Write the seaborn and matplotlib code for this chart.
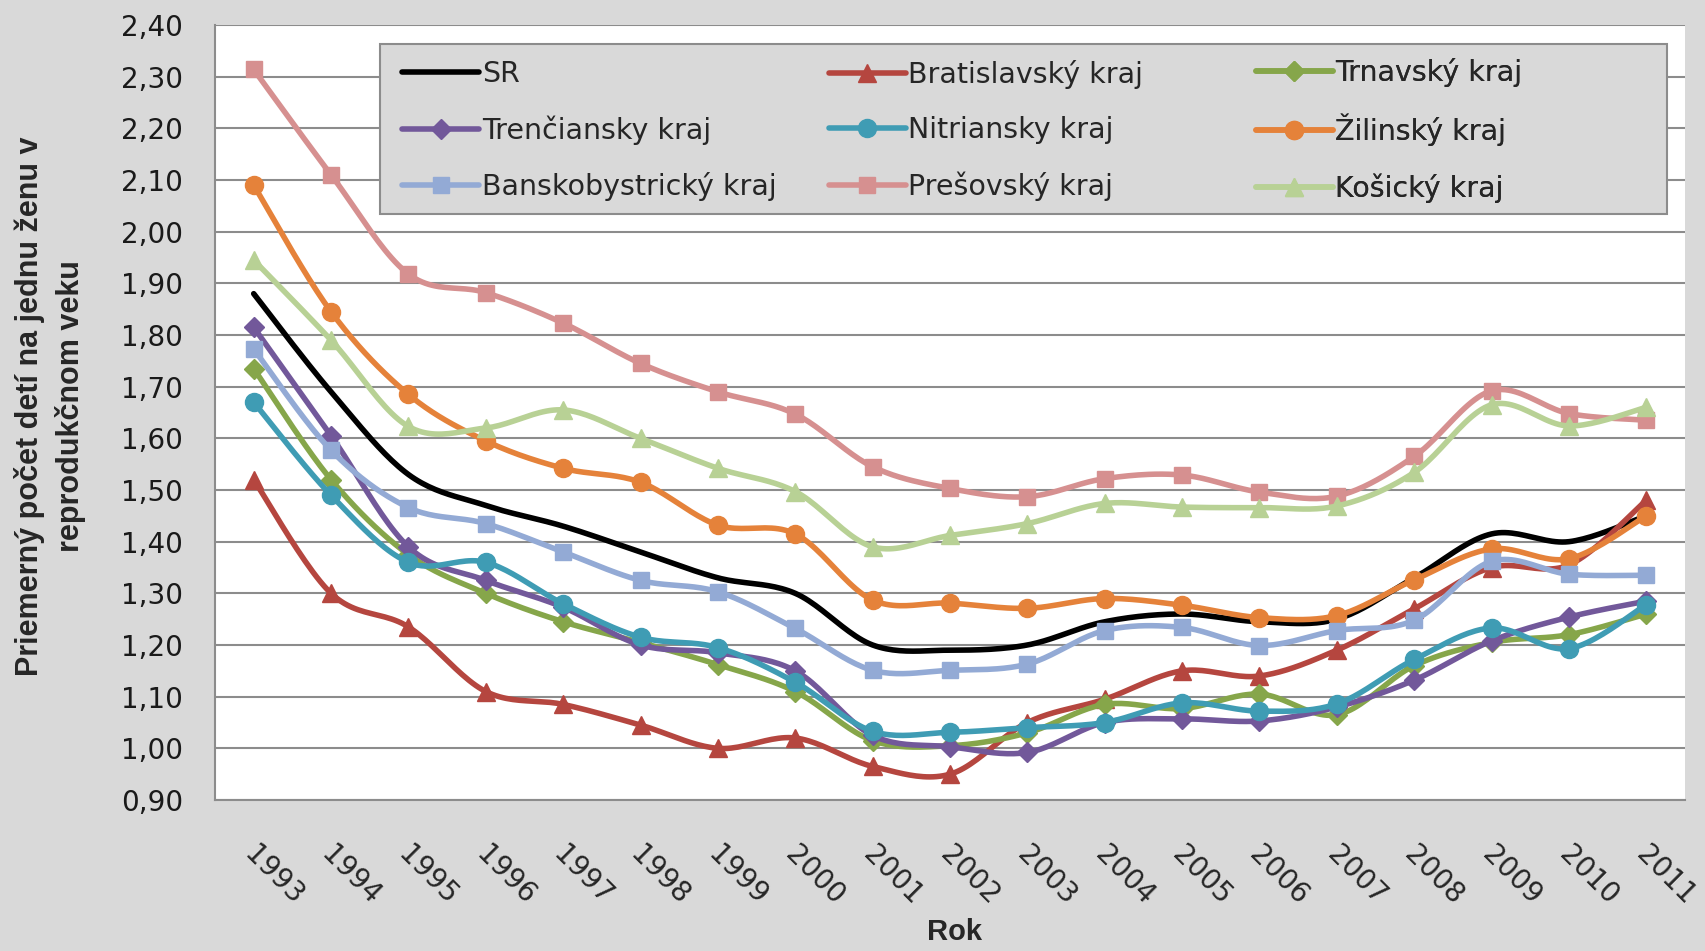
import numpy as np
import pandas as pd
import seaborn as sns
import matplotlib.pyplot as plt
from matplotlib import font_manager as fm
from matplotlib.lines import Line2D
from matplotlib.patches import Rectangle
from matplotlib.ticker import FuncFormatter, MultipleLocator

# hodnoty odčítané z grafu
years = list(range(1993, 2012))
sr = [1.88, 1.69, 1.53, 1.47, 1.43, 1.38, 1.33, 1.30, 1.20, 1.19, 1.20, 1.245, 1.26, 1.245, 1.25, 1.33, 1.415, 1.40, 1.45]
bratislavsky = [1.52, 1.30, 1.235, 1.11, 1.085, 1.045, 1.00, 1.02, 0.965, 0.95, 1.05, 1.095, 1.15, 1.14, 1.19, 1.27, 1.35, 1.355, 1.48]
trnavsky = [1.735, 1.52, 1.375, 1.30, 1.245, 1.205, 1.162, 1.11, 1.015, 1.005, 1.03, 1.085, 1.077, 1.105, 1.065, 1.16, 1.205, 1.22, 1.26]
trenciansky = [1.815, 1.605, 1.39, 1.325, 1.273, 1.20, 1.185, 1.15, 1.025, 1.003, 0.992, 1.05, 1.057, 1.053, 1.08, 1.132, 1.208, 1.254, 1.285]
nitriansky = [1.67, 1.49, 1.36, 1.36, 1.28, 1.215, 1.195, 1.128, 1.033, 1.031, 1.04, 1.05, 1.088, 1.072, 1.086, 1.172, 1.233, 1.193, 1.278]
zilinsky = [2.09, 1.845, 1.685, 1.595, 1.542, 1.515, 1.432, 1.415, 1.287, 1.281, 1.271, 1.29, 1.277, 1.253, 1.257, 1.326, 1.386, 1.367, 1.45]
banskobystricky = [1.773, 1.577, 1.466, 1.435, 1.38, 1.325, 1.303, 1.232, 1.151, 1.151, 1.163, 1.228, 1.234, 1.199, 1.228, 1.248, 1.362, 1.337, 1.335]
presovsky = [2.314, 2.11, 1.918, 1.882, 1.823, 1.745, 1.69, 1.647, 1.545, 1.503, 1.487, 1.522, 1.529, 1.496, 1.488, 1.565, 1.692, 1.648, 1.635]
kosicky = [1.945, 1.79, 1.623, 1.62, 1.655, 1.60, 1.542, 1.497, 1.39, 1.412, 1.435, 1.474, 1.467, 1.466, 1.469, 1.534, 1.665, 1.624, 1.66]

names = ["SR", "Bratislavský kraj", "Trnavský kraj", "Trenčiansky kraj", "Nitriansky kraj",
         "Žilinský kraj", "Banskobystrický kraj", "Prešovský kraj", "Košický kraj"]
values = [sr, bratislavsky, trnavsky, trenciansky, nitriansky, zilinsky, banskobystricky, presovsky, kosicky]
colors = ["#000000", "#B5463F", "#86A64A", "#72589A", "#3F9CB4", "#E5823A", "#93AAD5", "#D69090", "#B8D195"]
markers = [None, "^", "D", "D", "o", "o", "s", "s", "^"]
msizes = [0, 13, 10, 10, 13, 13, 12, 12, 13]


def smooth_curve(x, y, steps=24):
    # Bezierova krivka ako v Exceli (vyhladená čiara)
    x = np.asarray(x, float)
    y = np.asarray(y, float)
    n = len(x)
    xs, ys = [], []
    t = np.linspace(0, 1, steps)
    for i in range(n - 1):
        i0 = max(i - 1, 0)
        i3 = min(i + 2, n - 1)
        p0 = np.array([x[i], y[i]])
        p3 = np.array([x[i + 1], y[i + 1]])
        c1 = p0 + (p3 - np.array([x[i0], y[i0]])) / 6
        c2 = p3 - (np.array([x[i3], y[i3]]) - p0) / 6
        pts = ((1 - t) ** 3)[:, None] * p0 + (3 * (1 - t) ** 2 * t)[:, None] * c1 \
            + (3 * (1 - t) * t ** 2)[:, None] * c2 + (t ** 3)[:, None] * p3
        xs.extend(pts[:, 0])
        ys.extend(pts[:, 1])
    return np.array(xs), np.array(ys)


sns.set_style("white")
plt.rcParams["font.family"] = ["DejaVu Sans"]

# úzke písmo pre popis osi, ak je k dispozícii
avail = {f.name for f in fm.fontManager.ttflist}
if "Liberation Sans Narrow" in avail:
    label_font, label_size = "Liberation Sans Narrow", 26
else:
    label_font, label_size = "Liberation Sans", 22

fig = plt.figure(figsize=(17.06, 9.51), dpi=100)
fig.patch.set_facecolor("#D9D9D9")
ax = fig.add_axes([215 / 1706, 151 / 951, 1470 / 1706, 775 / 951])
ax.set_facecolor("white")

idx = np.arange(len(years))
for k, (name, vals) in enumerate(zip(names, values)):
    sx, sy = smooth_curve(idx, vals)
    sns.lineplot(x=sx, y=sy, color=colors[k], lw=4, sort=False, estimator=None, ax=ax, zorder=3 + k)
    if markers[k]:
        ax.plot(idx, vals, ls="none", marker=markers[k], ms=msizes[k], color=colors[k],
                mec=colors[k], zorder=3 + k)

ax.set_xlim(-0.5, len(years) - 0.5)
ax.set_ylim(0.9, 2.4)
ax.yaxis.set_major_locator(MultipleLocator(0.1))
ax.yaxis.set_major_formatter(FuncFormatter(lambda v, p: f"{v:.2f}".replace(".", ",")))
ax.grid(axis="y", color="#8C8C8C", lw=1.5)
ax.set_axisbelow(True)

ax.set_xticks(np.arange(-0.5, len(years)), labels=[])
ax.set_xticks(idx - 0.07, labels=[str(y) for y in years], minor=True)
ax.tick_params(axis="x", which="major", length=9, width=1.5, color="#8C8C8C", direction="out")
ax.tick_params(axis="x", which="minor", length=0, pad=36, labelsize=20)
for lbl in ax.get_xticklabels(minor=True):
    lbl.set_rotation(-45)
    lbl.set_ha("left")
    lbl.set_va("center")
    lbl.set_rotation_mode("anchor")
ax.tick_params(axis="y", length=9, width=1.5, color="#8C8C8C", direction="out", pad=14,
               labelsize=20, labelcolor="#1A1A1A")

for side in ["top", "right"]:
    ax.spines[side].set_visible(False)
for side in ["left", "bottom"]:
    ax.spines[side].set_color("#8C8C8C")
    ax.spines[side].set_linewidth(1.5)

fig.text(50 / 1706, 1 - 406 / 951, "Priemerný počet detí na jednu ženu v\nreprodukčnom veku",
         rotation=90, ha="center", va="center", multialignment="center",
         fontsize=label_size, fontweight="bold", linespacing=1.45, family=[label_font, "DejaVu Sans"])
fig.text(955 / 1706, 1 - 932 / 951, "Rok", ha="center", va="center", fontsize=21, fontweight="bold",
         family=[label_font, "DejaVu Sans"])

# legenda - rámik a tri stĺpce
ax.add_patch(Rectangle((0.1125, 0.756), 0.875, 0.2195, transform=ax.transAxes,
                       facecolor="#D9D9D9", edgecolor="#8C8C8C", lw=1.5, zorder=20))
col_x = [0.1275, 0.4175, 0.708]
for c in range(3):
    handles = []
    for r in range(3):
        k = c + 3 * r
        handles.append(Line2D([], [], color=colors[k], lw=4, marker=markers[k],
                              ms=msizes[k], mec=colors[k], label=names[k]))
    leg = ax.legend(handles=handles, loc="center left", bbox_to_anchor=(col_x[c], 0.864),
                    frameon=False, fontsize=20.5, handlelength=2.7, handletextpad=0.1,
                    labelspacing=0.95, borderpad=0, borderaxespad=0)
    leg.set_zorder(21)
    ax.add_artist(leg)

fig.savefig("out.png", dpi=100, facecolor=fig.get_facecolor())
